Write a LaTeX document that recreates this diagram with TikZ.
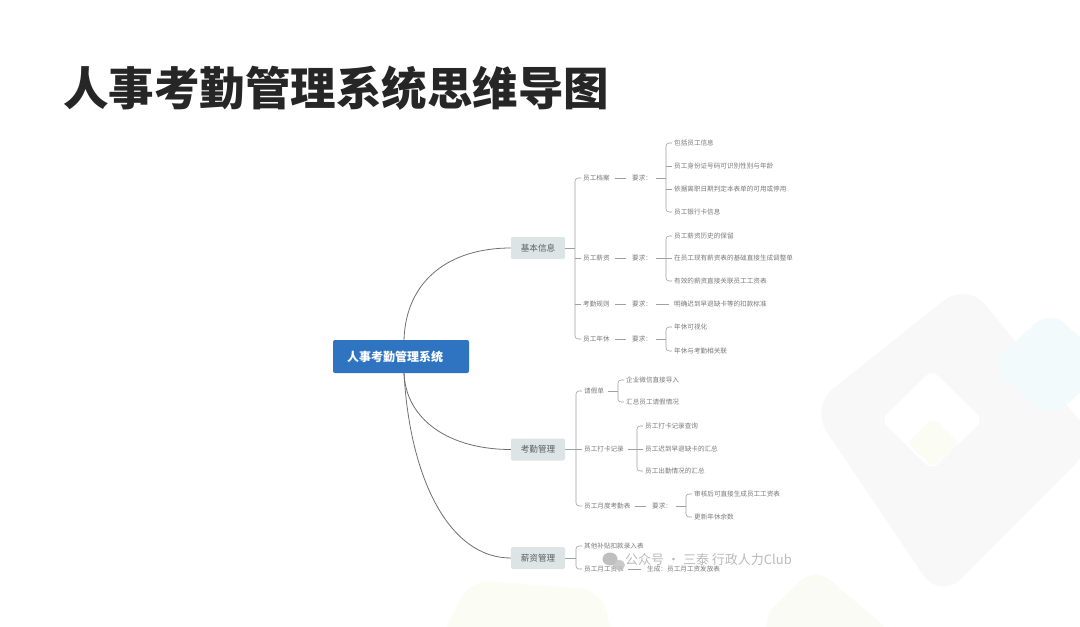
\documentclass[tikz,border=0pt]{standalone}
\usepackage{fontspec}
\setmainfont{Noto Sans CJK SC}
\definecolor{rootblue}{HTML}{2F74C1}
\definecolor{branchfill}{HTML}{DDE4E6}
\definecolor{branchtxt}{HTML}{5A5F60}
\definecolor{leaftxt}{HTML}{7A7A7A}
\definecolor{linegray}{HTML}{A0A0A0}
\definecolor{curvegray}{HTML}{707070}
\definecolor{titlecol}{HTML}{262626}
\definecolor{wmgray}{HTML}{B4B4B4}
\definecolor{bggray}{HTML}{F8F8F9}
\definecolor{bgcyan}{HTML}{F3FAFB}
\definecolor{bgyellow}{HTML}{FBFCF3}
\definecolor{bggreen}{HTML}{F9FBF4}
\newcommand\mmgrp[4]{%
  \draw[bracket] ([xshift=-2pt]#2.west) -- ++(-6,0) |- ([xshift=-2pt]#3.west);
  \path ([xshift=-8pt]#2.west) coordinate (tmpspine);
  \draw[link] ([xshift=#4]#1.east) -- (tmpspine |- #1.east);}
\newcommand\mmstub[1]{\draw[link] ([xshift=-2pt]#1.west) -- ++(-6,0);}
\begin{document}
\begin{tikzpicture}[x=1pt,y=-1pt,
  leaf/.style={anchor=west,inner sep=0pt,font=\fontsize{6.6}{7}\selectfont,text=leaftxt},
  branch/.style={fill=branchfill,rounded corners=2pt,minimum width=54pt,minimum height=22pt,inner sep=0pt,font=\fontsize{8.6}{9}\selectfont,text=branchtxt},
  link/.style={draw=linegray,line width=0.55pt},
  bracket/.style={link,rounded corners=3pt},
  curve/.style={draw=curvegray,line width=0.8pt}]
\useasboundingbox (0,0) rectangle (1080,627);
\fill[white] (0,0) rectangle (1080,627);
% faint background shapes
\fill[bggray,rounded corners=30pt] (967,282) -- (1097,442) -- (940,600) -- (810,407) -- cycle;
\fill[white,rounded corners=8pt] (932,370) -- (983,420) -- (932,470) -- (881,420) -- cycle;
\fill[bgyellow,rounded corners=6pt] (933,418) -- (960,443) -- (933,467) -- (907,443) -- cycle;
\fill[bgcyan,rounded corners=20pt] (1050,310) -- (1110,365) -- (1050,420) -- (990,365) -- cycle;
\fill[bggreen,rounded corners=20pt] (815,567) -- (900,640) -- (800,700) -- (760,620) -- cycle;
\fill[bgyellow,rounded corners=20pt] (470,580) -- (600,590) -- (620,660) -- (430,660) -- cycle;
\fill[white,rounded corners=20pt] (1030,513) -- (1110,560) -- (1080,660) -- (987,620) -- cycle;

% title
\node[anchor=west,inner sep=0pt,font=\fontsize{45.5}{50}\selectfont\bfseries,text=titlecol] (title) at (63,88) {人事考勤管理系统思维导图};

% root and branches
\node[fill=rootblue,rounded corners=2pt,minimum height=33pt,text width=108pt,inner xsep=14pt,inner ysep=0pt,align=left,font=\fontsize{12}{14}\selectfont\bfseries,text=white] (root) at (401,356.5) {人事考勤管理系统};
\node[branch] (b1) at (538,248) {基本信息};
\node[branch] (b2) at (538,449.5) {考勤管理};
\node[branch] (b3) at (538,558) {薪资管理};
\draw[curve] ([xshift=3pt]root.north) .. controls +(2,-60) and +(-61,0) .. (b1.west);
\draw[curve] ([xshift=3pt]root.south) .. controls +(2,47) and +(-61,0) .. (b2.west);
\draw[curve] ([xshift=3pt]root.south) .. controls +(6,107) and +(-61,0) .. (b3.west);

% ---- 基本信息
\node[leaf] (a1) at (583,178) {员工档案};
\node[leaf] (a2) at (583,258) {员工薪资};
\node[leaf] (a3) at (583,304) {考勤规则};
\node[leaf] (a4) at (583,339) {员工年休};
\mmgrp{b1}{a1}{a4}{0pt}
\mmstub{a2}\mmstub{a3}

\node[leaf] (r1) at (632,178) {要求：};
\node[leaf] (r2) at (632,258) {要求：};
\node[leaf] (r3) at (632,304) {要求：};
\node[leaf] (r4) at (632,339) {要求：};
\foreach \p/\q in {a1/r1,a2/r2,a3/r3,a4/r4}
  \draw[link] ([xshift=5pt]\p.east) -- ([xshift=-6pt]\q.west);

\node[leaf] (a11) at (674,143) {包括员工信息};
\node[leaf] (a12) at (674,166) {员工身份证号码可识别性别与年龄};
\node[leaf] (a13) at (674,189) {依据离职日期判定本表单的可用或停用};
\node[leaf] (a14) at (674,212) {员工银行卡信息};
\mmgrp{r1}{a11}{a14}{4pt}
\mmstub{a12}\mmstub{a13}

\node[leaf] (a21) at (674,236) {员工薪资历史的保留};
\node[leaf] (a22) at (674,258) {在员工现有薪资表的基础直接生成调整单};
\node[leaf] (a23) at (674,281) {有效的薪资直接关联员工工资表};
\mmgrp{r2}{a21}{a23}{4pt}
\mmstub{a22}

\node[leaf] (a31) at (674,304) {明确迟到早退缺卡等的扣款标准};
\draw[link] ([xshift=4pt]r3.east) -- ([xshift=-5pt]a31.west);

\node[leaf] (a41) at (674,327) {年休可视化};
\node[leaf] (a42) at (674,351) {年休与考勤相关联};
\mmgrp{r4}{a41}{a42}{4pt}

% ---- 考勤管理
\node[leaf] (k1) at (584,391) {请假单};
\node[leaf] (k2) at (584,449) {员工打卡记录};
\node[leaf] (k3) at (584,506) {员工月度考勤表};
\mmgrp{b2}{k1}{k3}{0pt}
\mmstub{k2}

\node[leaf] (k11) at (626,380) {企业微信直接导入};
\node[leaf] (k12) at (626,402) {汇总员工请假情况};
\mmgrp{k1}{k11}{k12}{4pt}

\node[leaf] (k21) at (645,426) {员工打卡记录查询};
\node[leaf] (k22) at (645,449) {员工迟到早退缺卡的汇总};
\node[leaf] (k23) at (645,471) {员工出勤情况的汇总};
\mmgrp{k2}{k21}{k23}{4pt}
\mmstub{k22}

\node[leaf] (rk3) at (652,506) {要求：};
\draw[link] ([xshift=4pt]k3.east) -- ([xshift=-6pt]rk3.west);
\node[leaf] (k31) at (694,494) {审核后可直接生成员工工资表};
\node[leaf] (k32) at (694,517) {更新年休余数};
\mmgrp{rk3}{k31}{k32}{4pt}

% ---- 薪资管理
\node[leaf] (x1) at (584,546) {其他补贴扣款录入表};
\node[leaf] (x2) at (584,569) {员工月工资表};
\mmgrp{b3}{x1}{x2}{0pt}
\node[leaf] (gx2) at (647,569) {生成：};
\draw[link] ([xshift=4pt]x2.east) -- ([xshift=-6pt]gx2.west);
\node[leaf] (x21) at (667,569) {员工月工资发放表};

% watermark
\fill[wmgray,opacity=0.85] (610,559) ellipse (7.5 and 6.5);
\fill[wmgray!80,opacity=0.85] (619,565) ellipse (6 and 5);
\node[anchor=west,inner sep=0pt,font=\fontsize{13}{14}\selectfont,text=wmgray,opacity=0.9] (wm) at (625,560) {公众号 · 三泰 行政人力Club};
\end{tikzpicture}
\end{document}
